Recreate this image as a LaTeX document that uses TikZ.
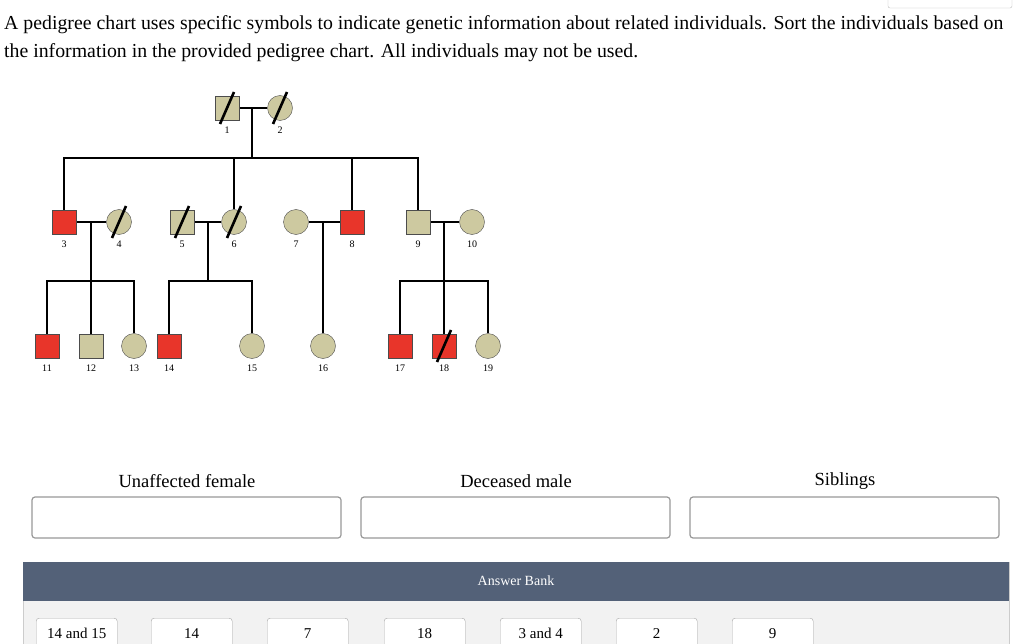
\documentclass[tikz,border=0pt]{standalone}
\usepackage{fontspec}
\setmainfont{Liberation Serif}
\usetikzlibrary{positioning, calc}
\definecolor{tan}{RGB}{205,201,160}
\definecolor{sick}{RGB}{232,53,42}
\definecolor{bank}{RGB}{83,97,120}
\definecolor{bankbg}{RGB}{242,242,242}
\pgfdeclarelayer{background}
\pgfsetlayers{background,main}
\newcommand{\dead}[1]{\draw[line width=2.6pt] ($(#1.center)+(-7pt,-16pt)$) -- ($(#1.center)+(7pt,16pt)$);}
\tikzset{
  male/.style={rectangle, draw=black!70, fill=tan, minimum size=24pt, inner sep=0pt,
    label={[font=\fontsize{10}{12}\selectfont, label distance=3pt]below:#1}},
  female/.style={circle, draw=black!70, fill=tan, minimum size=25pt, inner sep=0pt,
    label={[font=\fontsize{10}{12}\selectfont, label distance=3pt]below:#1}},
  ill/.style={fill=sick},
  tie/.style={line width=2pt},
  anslot/.style={draw=black!40, rounded corners=3pt, line width=1.2pt, fill=white},
  chip/.style={draw=black!35, rounded corners=3pt, fill=white, minimum width=81pt, minimum height=30pt, anchor=north west},
}
\begin{document}
\begin{tikzpicture}[x=1pt, y=-1pt]
  \useasboundingbox (0,0) rectangle (1024,644);
  \draw[black!25, rounded corners=2pt] (888,-5) rectangle (1012,8);

  \node[anchor=west, font=\fontsize{19.8}{23}\selectfont, inner sep=0pt] (q1) at (4,25)
    {A pedigree chart uses specific symbols to indicate genetic information about related individuals. Sort the individuals based on};
  \node[anchor=west, font=\fontsize{19.8}{23}\selectfont, inner sep=0pt] (q2) at (4,53)
    {the information in the provided pedigree chart. All individuals may not be used.};

  % generation I
  \node[male=1]   (n1) at (227,108) {};
  \node[female=2] (n2) at (280,108) {};
  % generation II
  \node[male=3, ill] (n3)  at (64,222) {};
  \node[female=4]    (n4)  at (119,222) {};
  \node[male=5]      (n5)  at (182,222) {};
  \node[female=6]    (n6)  at (234,222) {};
  \node[female=7]    (n7)  at (296,222) {};
  \node[male=8, ill] (n8)  at (352,222) {};
  \node[male=9]      (n9)  at (418,222) {};
  \node[female=10]   (n10) at (472,222) {};
  % generation III
  \node[male=11, ill] (n11) at (47,346) {};
  \node[male=12]      (n12) at (91,346) {};
  \node[female=13]    (n13) at (134,346) {};
  \node[male=14, ill] (n14) at (169,346) {};
  \node[female=15]    (n15) at (252,346) {};
  \node[female=16]    (n16) at (323,346) {};
  \node[male=17, ill] (n17) at (400,346) {};
  \node[male=18, ill] (n18) at (444,346) {};
  \node[female=19]    (n19) at (488,346) {};

  \coordinate (m12) at (252,108);
  \coordinate (m34) at (91,222);
  \coordinate (m56) at (208,222);
  \coordinate (m78) at (323,222);
  \coordinate (m910) at (444,222);

  \begin{pgfonlayer}{background}
  \fill[white] (0,0) rectangle (1024,644);
  \begin{scope}[tie]
    \draw (n1) -- (n2);
    \draw (m12) -- (252,158);
    \draw (n3.north) |- (252,158) -| (n9.north);
    \draw (n6.north) -- (234,158);
    \draw (n8.north) -- (352,158);
    \draw (n3) -- (n4);
    \draw (n5) -- (n6);
    \draw (n7) -- (n8);
    \draw (n9) -- (n10);
    \draw (m34) -- (n12.north);
    \draw (n11.north) |- (91,281) -| (n13.north);
    \draw (m56) -- (208,281);
    \draw (n14.north) |- (208,281) -| (n15.north);
    \draw (m78) -- (n16.north);
    \draw (m910) -- (n18.north);
    \draw (n17.north) |- (444,281) -| (n19.north);
  \end{scope}
  \end{pgfonlayer}

  \dead{n1} \dead{n2} \dead{n4} \dead{n5} \dead{n6} \dead{n18}

  % sorting targets
  \node[font=\fontsize{18.5}{22}\selectfont] (h1) at (187,481) {Unaffected female};
  \node[font=\fontsize{18.5}{22}\selectfont] (h2) at (516,481) {Deceased male};
  \node[font=\fontsize{18.5}{22}\selectfont] (h3) at (845,481) {Siblings};
  \draw[anslot] (32,497) rectangle (341,538);
  \draw[anslot] (361,497) rectangle (670,538);
  \draw[anslot] (690,497) rectangle (999,538);

  % answer bank
  \fill[bankbg] (23,601) rectangle (1009,644);
  \draw[black!20] (23,562) -- (23,644) (1009,562) -- (1009,644);
  \fill[bank] (23,562) rectangle (1009,601);
  \node[white, font=\fontsize{14}{16}\selectfont] (ab) at (516,581) {Answer Bank};
  \foreach \x/\t in {36/14 and 15, 151/14, 267/7, 384/18, 500/3 and 4, 616/2, 732/9}
    \node[chip, font=\fontsize{15}{18}\selectfont] at (\x,618) {\t};
\end{tikzpicture}
\end{document}
